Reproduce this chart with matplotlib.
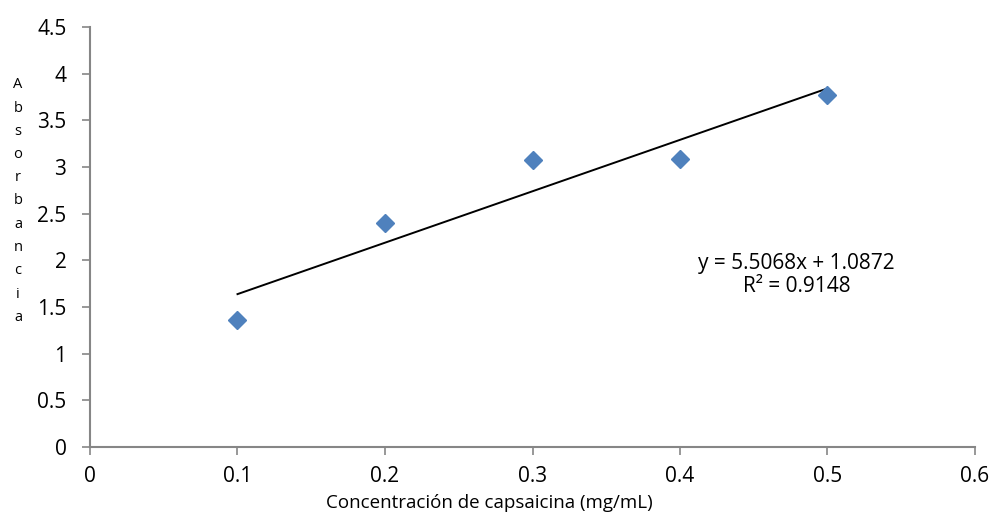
import numpy as np
import matplotlib.pyplot as plt

plt.rcParams["font.family"] = ["Open Sans", "DejaVu Sans"]

# datos
conc = [0.1, 0.2, 0.3, 0.4, 0.5]
absorb = [1.36, 2.40, 3.08, 3.09, 3.77]
x_ticks = [0, 0.1, 0.2, 0.3, 0.4, 0.5, 0.6]
y_ticks = [0, 0.5, 1, 1.5, 2, 2.5, 3, 3.5, 4, 4.5]
eq_text = "y = 5.5068x + 1.0872\nR² = 0.9148"

fig = plt.figure(figsize=(9.92, 5.15), dpi=100)
ax = fig.add_axes([90 / 992, 1 - 447 / 515, 885 / 992, 420 / 515])

ax.plot(conc, absorb, linestyle="none", marker="D", markersize=9.5,
        color="#4F81BD", zorder=3)

# línea de tendencia
m, b = np.polyfit(conc, absorb, 1)
xs = np.array([conc[0], conc[-1]])
ax.plot(xs, m * xs + b, color="black", lw=1.4, zorder=2)

ax.text(0.479, 1.84, eq_text, ha="center", va="center", fontsize=15,
        linespacing=1.15)

ax.set_xlim(0, 0.6)
ax.set_ylim(0, 4.5)
ax.set_xticks(x_ticks)
ax.set_yticks(y_ticks)
ax.set_xticklabels([f"{v:g}" for v in x_ticks])
ax.set_yticklabels([f"{v:g}" for v in y_ticks])

for s in ["top", "right"]:
    ax.spines[s].set_visible(False)
for s in ["left", "bottom"]:
    ax.spines[s].set_color("#868686")
    ax.spines[s].set_linewidth(1.5)
ax.tick_params(colors="#868686", width=1.2, length=6, labelsize=15,
               labelcolor="black")
ax.tick_params(axis="x", pad=8)
ax.tick_params(axis="y", pad=11)

ax.set_xlabel("Concentración de capsaicina (mg/mL)", fontsize=13.5)
ax.xaxis.set_label_coords(0.451, -0.112)

fig.text(18 / 992, 1 - 201 / 515, "\n".join("Absorbancia"), ha="center",
         va="center", fontsize=10.5, linespacing=1.75)

fig.savefig("out.png", dpi=100)
